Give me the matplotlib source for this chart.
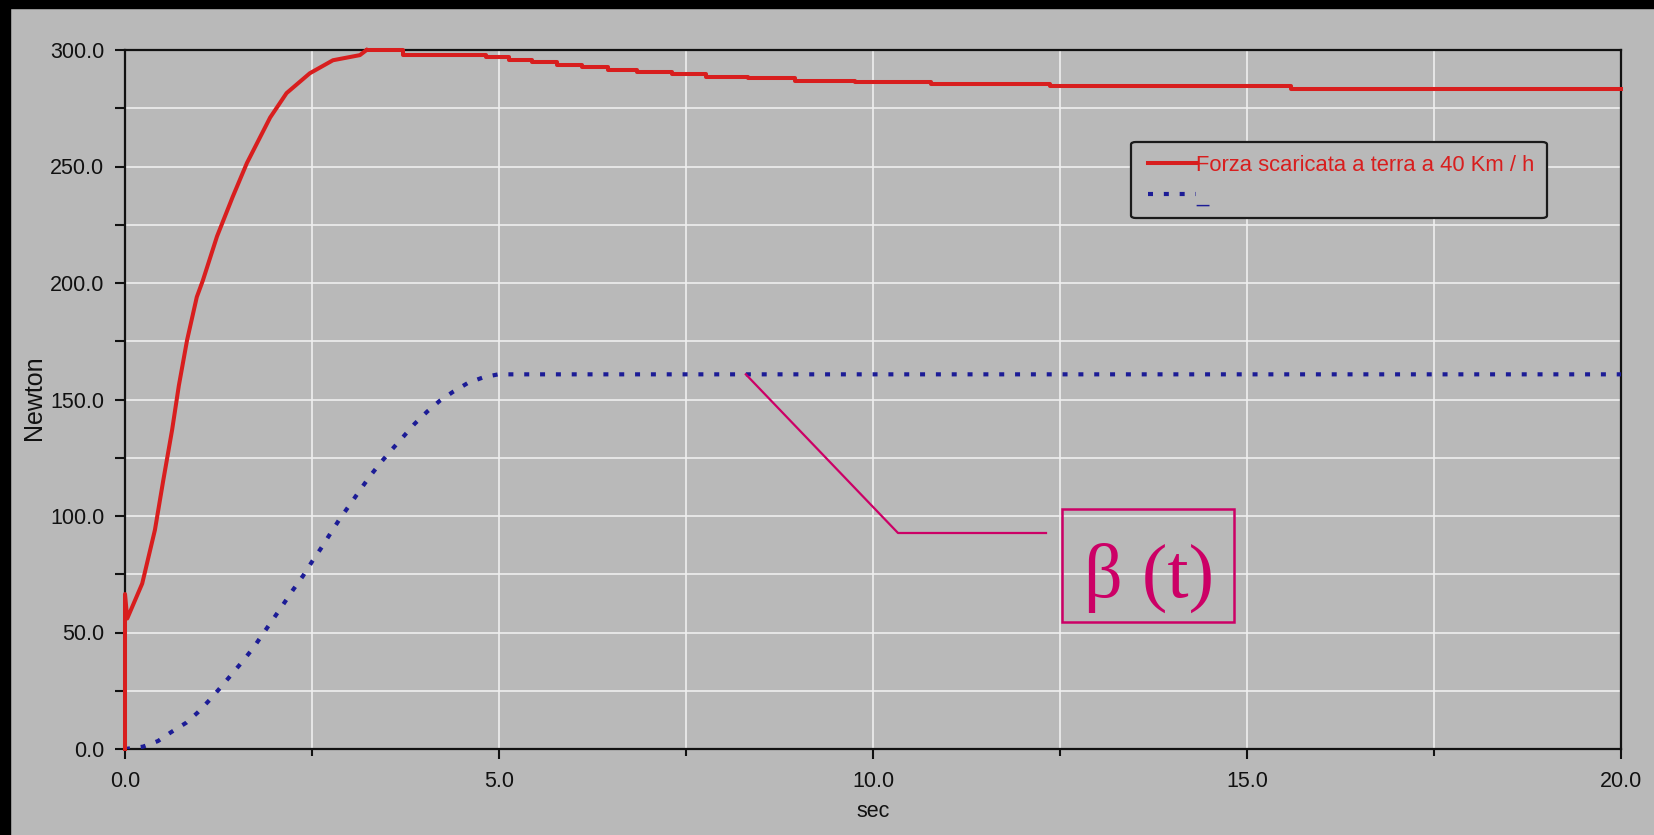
import matplotlib
matplotlib.use("Agg")
import matplotlib.pyplot as plt
from matplotlib.patches import Rectangle, FancyBboxPatch
from matplotlib.lines import Line2D
from matplotlib.ticker import MultipleLocator, FuncFormatter

# ---------------- data ----------------
force_rise_t = [0.0, 0.0, 0.03, 0.23, 0.40, 0.51, 0.63, 0.72, 0.83, 0.96, 1.04, 1.23,
                1.44, 1.63, 1.94, 2.16, 2.47, 2.78, 3.14, 3.23]
force_rise_v = [0.0, 66.5, 56.0, 71.0, 94.0, 115.0, 137.0, 156.0, 175.5, 194.0, 201.0, 220.0,
                237.0, 251.5, 271.0, 281.5, 290.0, 295.6, 297.8, 300.0]

force_step_t = [3.23, 3.72, 4.83, 5.14, 5.44, 5.78, 6.11, 6.46, 6.85, 7.31, 7.77, 8.33,
                8.96, 9.76, 10.78, 12.37, 15.59, 20.0]
force_step_v = [300.0, 298.0, 296.8, 295.7, 294.7, 293.7, 292.5, 291.5, 290.5, 289.7, 288.6, 287.8,
                286.8, 286.1, 285.5, 284.6, 283.3, 283.3]

beta_t = [0.0, 0.24, 0.44, 0.62, 0.82, 0.97, 1.13, 1.28, 1.43, 1.58, 1.72, 1.85, 1.98, 2.11,
          2.24, 2.38, 2.50, 2.63, 2.75, 2.88, 3.01, 3.15, 3.28, 3.42, 3.57, 3.72, 3.87, 4.04,
          4.21, 4.39, 4.59, 4.79, 4.99, 20.0]
beta_v = [0.0, 1.0, 3.4, 7.3, 11.3, 15.6, 21.0, 26.5, 32.2, 37.9, 43.6, 49.7, 55.7, 61.8,
          68.0, 74.3, 80.4, 86.6, 92.7, 99.2, 105.0, 111.5, 117.3, 123.0, 128.6, 134.0, 139.5, 144.8,
          149.5, 153.4, 157.2, 159.5, 160.8, 160.8]

legend_labels = ["Forza scaricata a terra a 40 Km / h", "_"]
x_label = "sec"
y_label = "Newton"
annot_text = "\u03b2 (t)"
annot_point = (8.30, 160.8)

# ---------------- figure ----------------
W, H = 1654, 835
BG = "#b9b9b9"
RED = "#d81e1e"
BLUE = "#1c1c96"
MAG = "#cc0066"
INK = "#111111"

fig = plt.figure(figsize=(W / 100, H / 100), dpi=100, facecolor=BG)
fig.patches.append(Rectangle((0, 0), 10 / W, 1, transform=fig.transFigure, color="black", zorder=0))
fig.patches.append(Rectangle((0, 1 - 8 / H), 1, 8 / H, transform=fig.transFigure, color="black", zorder=0))

ax = fig.add_axes([125 / W, (H - 749) / H, 1496 / W, 699 / H])
ax.set_facecolor(BG)
ax.set_xlim(0, 20)
ax.set_ylim(0, 300)

fmt = FuncFormatter(lambda v, p: f"{v:.1f}")
ax.xaxis.set_major_locator(MultipleLocator(5))
ax.xaxis.set_minor_locator(MultipleLocator(2.5))
ax.yaxis.set_major_locator(MultipleLocator(50))
ax.yaxis.set_minor_locator(MultipleLocator(25))
ax.xaxis.set_major_formatter(fmt)
ax.yaxis.set_major_formatter(fmt)

ax.grid(True, which="both", color="#efefef", linewidth=1.2, zorder=0)
ax.set_axisbelow(True)

ax.tick_params(axis="both", which="major", labelsize=15.5, colors=INK, width=1.5, direction="out")
ax.tick_params(axis="x", which="major", length=7, pad=9)
ax.tick_params(axis="x", which="minor", length=5, width=1.5, color=INK)
ax.tick_params(axis="y", which="major", length=7, pad=8)
ax.tick_params(axis="y", which="minor", length=7, width=1.5, color=INK)
for lab in ax.get_xticklabels() + ax.get_yticklabels():
    lab.set_fontfamily("Liberation Sans")

for s in ax.spines.values():
    s.set_color(INK)
    s.set_linewidth(1.6)

# data lines
BETA_DASH = (1.2, 2.6)
ax.plot(beta_t, beta_v, color=BLUE, linewidth=3.0, dashes=BETA_DASH, dash_capstyle="butt",
        zorder=3)
ax.plot(force_rise_t, force_rise_v, color=RED, linewidth=2.9, zorder=4, clip_on=False)
ax.plot(force_step_t, force_step_v, color=RED, linewidth=2.9, drawstyle="steps-post", zorder=4,
        clip_on=False)

ax.set_xlabel(x_label, fontsize=15.5, family="Liberation Sans", color=INK, labelpad=6)
ax.set_ylabel(y_label, fontsize=18, family="Liberation Sans", color=INK)
ax.yaxis.set_label_coords((46 - 125) / 1496, (749 - 398) / 699)

# legend frame (drawn in the axes, under the legend)
frame = FancyBboxPatch((1131 / W, 1 - 218 / H), (1547 - 1131) / W, (218 - 142) / H,
                       boxstyle="round,pad=0,rounding_size=0.003",
                       transform=fig.transFigure, facecolor=BG, edgecolor="#1a1a1a",
                       linewidth=1.6, zorder=5, clip_on=False)
ax.add_artist(frame)

h_red = Line2D([], [], color=RED, linewidth=2.9)
h_blue = Line2D([], [], color=BLUE, linewidth=3.0, dashes=BETA_DASH, dash_capstyle="butt")
leg = ax.legend([h_red, h_blue], legend_labels, loc="upper left",
                bbox_to_anchor=((1148 - 125) / 1496, (749 - 155) / 699), borderaxespad=0,
                prop=dict(family="Liberation Sans", size=15.8), handlelength=2.2, handletextpad=0.0,
                labelspacing=0.45, borderpad=0.0, frameon=False)
texts = leg.get_texts()
texts[0].set_color(RED)
texts[1].set_color(BLUE)
leg.set_zorder(6)

# annotation
fig.canvas.draw()
px, py = ax.transData.transform(annot_point)
fig.lines.append(Line2D([px, 898, 1046], [py, H - 533, H - 533], transform=None, color=MAG,
                        linewidth=1.6, zorder=7))
fig.patches.append(Rectangle((1062 / W, 1 - 622 / H), (1234 - 1062) / W, (622 - 509) / H,
                             transform=fig.transFigure, fill=False, edgecolor=MAG, linewidth=1.8,
                             zorder=7))
fig.text(1149 / W, 1 - 578 / H, annot_text, ha="center", va="center", fontsize=55,
         family="Liberation Serif", color=MAG, zorder=8)

fig.savefig("out.png", dpi=100, facecolor=BG)
